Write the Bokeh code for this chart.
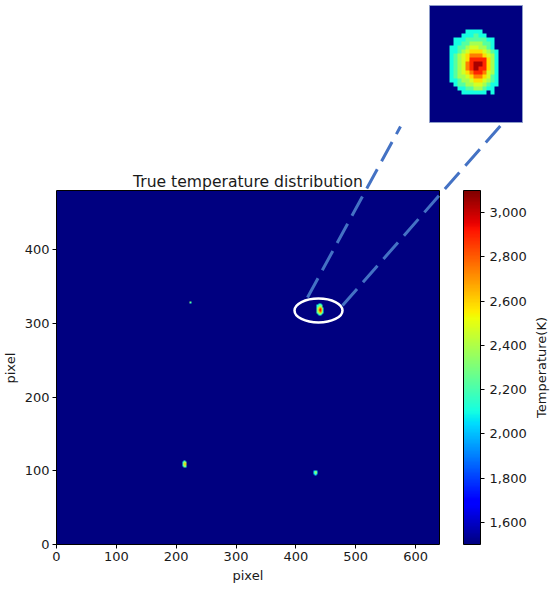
import numpy as np
from bokeh.plotting import figure
from bokeh.models import (LinearColorMapper, ColorBar, FixedTicker,
                          NumeralTickFormatter, Range1d, Title)
from bokeh.core.properties import value
from bokeh.embed import file_html
from bokeh.resources import INLINE

# ---------------- data ----------------
image_width = 640
image_height = 480
temp_low = 1500
temp_high = 3100
background_temp = 1500
# temperature (K) for each level code used in the spot grids
levels = [1500, 2000, 2100, 2230, 2380, 2470, 2580, 2740, 2890, 3040]

# spot centres (pixel coordinates)
spot_x = [440, 214, 433, 223]
spot_y = [318, 109, 97, 328]

# spot grids (top row first); digits index `levels`
spot_a = [
    "00000000000000000000000",
    "00000000000000000000000",
    "00000000000000000000000",
    "00000000000000000000000",
    "00000000000000000000000",
    "00000000000000000000000",
    "00000000022220000000000",
    "00000000222322000000000",
    "00000022233333220000000",
    "00000022334443320000000",
    "00000223345544320000000",
    "00000223456665432000000",
    "00000234567776542000000",
    "00000234568888642000000",
    "00000234578998642000000",
    "00000234578988642000000",
    "00000234567887542000000",
    "00000234456776532000000",
    "00000223445665432000000",
    "00000023344554322000000",
    "00000002233443220000000",
    "00000000222222020000000",
    "00000000000000000000000",
    "00000000000000000000000",
    "00000000000000000000000",
    "00000000000000000000000",
    "00000000000000000000000",
    "00000000000000000000000",
    "00000000000000000000000",
]
spot_b = [
    "00000000000",
    "00002220000",
    "00023332000",
    "00234443200",
    "00234564300",
    "00345786400",
    "00345885400",
    "00234664300",
    "00234443200",
    "00023332000",
    "00002220000",
    "00000000000",
]
spot_c = [
    "00000000",
    "00122100",
    "01233210",
    "02345320",
    "02456420",
    "02355320",
    "01233210",
    "00122100",
    "00011000",
    "00000000",
]
spot_d = [
    "00000",
    "02320",
    "03430",
    "02320",
    "00000",
]
spot_grids = [spot_a, spot_b, spot_c, spot_d]

x_ticks = [0, 100, 200, 300, 400, 500, 600]
y_ticks = [0, 100, 200, 300, 400]
cbar_ticks = [1600, 1800, 2000, 2200, 2400, 2600, 2800, 3000]

title_text = "True temperature distribution"
x_label = "pixel"
y_label = "pixel"
cbar_label = "Temperature(K)"

# ---------------- build the temperature field ----------------
field = np.full((image_height, image_width), float(background_temp))
origins = []
for grid, cx, cy in zip(spot_grids, spot_x, spot_y):
    arr = np.array([[levels[int(c)] for c in row] for row in grid], dtype=float)[::-1]
    h, w = arr.shape
    x0 = int(np.floor(cx - w / 2 + 0.5))
    y0 = int(np.floor(cy - h / 2 + 0.5))
    field[y0:y0 + h, x0:x0 + w] = arr
    origins.append((x0, y0, w, h))

ax0, ay0, aw, ah = origins[0]
inset = field[ay0:ay0 + ah, ax0:ax0 + aw]

# ---------------- jet palette ----------------
def jet(n=256):
    t = np.linspace(0, 1, n)
    r = np.interp(t, [0, 0.35, 0.66, 0.89, 1], [0, 0, 1, 1, 0.5])
    g = np.interp(t, [0, 0.125, 0.375, 0.64, 0.91, 1], [0, 0, 1, 1, 0, 0])
    b = np.interp(t, [0, 0.11, 0.34, 0.65, 1], [0.5, 1, 1, 0, 0])
    return ["#%02x%02x%02x" % (int(round(255 * a)), int(round(255 * c)), int(round(255 * d)))
            for a, c, d in zip(r, g, b)]

mapper = LinearColorMapper(palette=jet(), low=temp_low, high=temp_high)

# ---------------- layout (page pixels) ----------------
W, H = 550, 591
FL, FB = 56, 544             # frame left / bottom
IMG_R, IMG_T = 439, 190      # image right / top edge
SX = (IMG_R - FL) / image_width
SY = (FB - IMG_T) / image_height

def X(px):
    return (px - FL) / SX

def Y(py):
    return (FB - py) / SY

FONT = value("DejaVu Sans")
TXT = "#1a1a1a"

p = figure(width=W, height=H, output_backend="svg", toolbar_location=None,
           x_range=Range1d(0, X(W)), y_range=Range1d(0, Y(0)),
           min_border_left=FL, min_border_right=0, min_border_top=0,
           min_border_bottom=H - FB, title=None)
p.outline_line_color = None
p.xgrid.visible = False
p.ygrid.visible = False
p.background_fill_color = "white"
p.border_fill_color = "white"

for ax, ticks, bnd in ((p.xaxis[0], x_ticks, (0, image_width)),
                       (p.yaxis[0], y_ticks, (0, image_height))):
    ax.ticker = FixedTicker(ticks=ticks)
    ax.bounds = bnd
    ax.major_tick_in = 0
    ax.major_tick_out = 4
    ax.minor_tick_line_color = None
    ax.major_label_standoff = 3
    ax.major_label_text_font = "DejaVu Sans"
    ax.major_label_text_font_size = "13px"
    ax.major_label_text_color = TXT
    ax.axis_line_color = "black"
    ax.major_tick_line_color = "black"

p.add_layout(Title(text=x_label, align="left", offset=176, standoff=8,
                   vertical_align="top",
                   text_font="DejaVu Sans", text_font_size="13px",
                   text_font_style="normal", text_color=TXT), "below")
p.add_layout(Title(text=y_label, align="left", offset=161, standoff=3,
                   vertical_align="top",
                   text_font="DejaVu Sans", text_font_size="13px",
                   text_font_style="normal", text_color=TXT), "left")

# main image
p.image(image=[field], x=0, y=0, dw=image_width, dh=image_height,
        color_mapper=mapper)
p.quad(left=[0], right=[image_width], bottom=[0], top=[image_height],
       fill_color=None, line_color="black", line_width=1)

# title
p.text(x=[X((FL + IMG_R) / 2)], y=[Y(181.5)], text=[title_text],
       text_align="center", text_baseline="alphabetic",
       text_font=FONT, text_font_size=value("15.6px"), text_color=TXT)

# colour bar label
p.text(x=[X(541)], y=[Y((IMG_T + FB) / 2)], text=[cbar_label], angle=np.pi / 2,
       text_align="center", text_baseline="alphabetic",
       text_font=FONT, text_font_size=value("13px"), text_color=TXT)

# highlight ellipse around spot a
p.ellipse(x=[X(318)], y=[Y(310)], width=[48 / SX], height=[24 / SY],
          fill_color=None, line_color="white", line_width=2.5)

# dashed connector lines
p.line(x=[X(307), X(400)], y=[Y(297), Y(126)], line_color="#4472C4",
       line_width=3, line_dash="22 9")
p.line(x=[X(342), X(502)], y=[Y(305), Y(123)], line_color="#4472C4",
       line_width=3, line_dash="22 9")

# inset (crop of spot a)
IN_L, IN_R, IN_T, IN_B = 429, 522, 5, 122
p.image(image=[inset], x=X(IN_L), y=Y(IN_B), dw=(IN_R - IN_L) / SX,
        dh=(IN_B - IN_T) / SY, color_mapper=mapper)
p.quad(left=[X(IN_L)], right=[X(IN_R)], bottom=[Y(IN_B)], top=[Y(IN_T)],
       fill_color=None, line_color="#8d9cc8", line_width=1)

# colour bar
cbar = ColorBar(color_mapper=mapper, ticker=FixedTicker(ticks=cbar_ticks),
                formatter=NumeralTickFormatter(format="0,0"),
                location=(463 - FL, 0), width=17, height=FB - IMG_T, padding=0,
                major_tick_in=0, major_tick_out=4, major_tick_line_color="black",
                minor_tick_line_color=None, bar_line_color="black",
                label_standoff=5, major_label_text_font="DejaVu Sans",
                major_label_text_font_size="13px", major_label_text_color=TXT,
                background_fill_alpha=0, border_line_color=None)
p.add_layout(cbar)

open("out.html", "w").write(file_html(p, INLINE))
